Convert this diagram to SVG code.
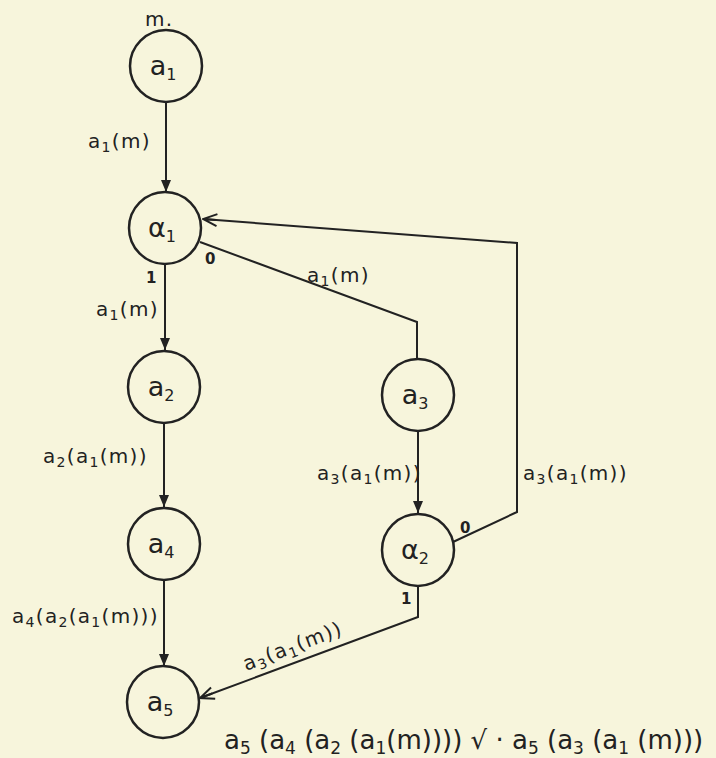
<svg xmlns="http://www.w3.org/2000/svg" width="716" height="758" viewBox="0 0 716 758">
<style>
.bg{fill:#f7f5dc}
.node circle{fill:none;stroke:#222;stroke-width:2.5}
.node text{font-family:"DejaVu Sans","Liberation Sans",sans-serif;font-size:27px;fill:#222;text-anchor:middle}
.edge{fill:none;stroke:#222;stroke-width:2}
.lbl{font-family:"DejaVu Sans","Liberation Sans",sans-serif;font-size:20px;letter-spacing:1.3px;fill:#222}
.br{font-family:"DejaVu Sans","Liberation Sans",sans-serif;font-size:15px;font-weight:bold;fill:#222}
.f{font-family:"DejaVu Sans","Liberation Sans",sans-serif;font-size:26px;fill:#222}
</style>
<defs>
<marker id="fill" viewBox="0 0 12 16" refX="12" refY="8" markerWidth="12" markerHeight="16" markerUnits="userSpaceOnUse" orient="auto">
<path d="M0,3 L12,8 L0,13 Z" fill="#222"/>
</marker>
<marker id="open" viewBox="0 0 16 16" refX="15" refY="8" markerWidth="16" markerHeight="16" markerUnits="userSpaceOnUse" orient="auto">
<path d="M1,2 L15,8 L1,14 M15,8 L2,8" fill="none" stroke="#222" stroke-width="2"/>
</marker>
</defs>
<rect class="bg" x="0" y="0" width="716" height="758"/>
<g id="connectors">
<path class="edge" d="M166 102 V192" marker-end="url(#fill)"/>
<path class="edge" d="M165 264 V350" marker-end="url(#fill)"/>
<path class="edge" d="M164 423 V507" marker-end="url(#fill)"/>
<path class="edge" d="M164 580 V666" marker-end="url(#fill)"/>
<path class="edge" d="M200 242 L417 322 V359"/>
<path class="edge" d="M418 431 V513" marker-end="url(#fill)"/>
<path class="edge" d="M453 542 L517 512 V243 L203 219" marker-end="url(#open)"/>
<path class="edge" d="M418 586 V617 L200 698" marker-end="url(#open)"/>
</g>
<g id="labels">
<text class="lbl" x="145" y="26">m.</text>
<text class="lbl" x="88" y="148">a<tspan dy="4" font-size="14">1</tspan><tspan dy="-4">(m)</tspan></text>
<text class="br" x="205" y="264">0</text>
<text class="br" x="146" y="283">1</text>
<text class="lbl" x="96" y="316">a<tspan dy="4" font-size="14">1</tspan><tspan dy="-4">(m)</tspan></text>
<text class="lbl" x="307" y="282">a<tspan dy="4" font-size="14">1</tspan><tspan dy="-4">(m)</tspan></text>
<text class="lbl" x="43" y="463">a<tspan dy="4" font-size="14">2</tspan><tspan dy="-4">(a</tspan><tspan dy="4" font-size="14">1</tspan><tspan dy="-4">(m))</tspan></text>
<text class="lbl" x="12" y="623">a<tspan dy="4" font-size="14">4</tspan><tspan dy="-4">(a</tspan><tspan dy="4" font-size="14">2</tspan><tspan dy="-4">(a</tspan><tspan dy="4" font-size="14">1</tspan><tspan dy="-4">(m)))</tspan></text>
<text class="lbl" x="317" y="480">a<tspan dy="4" font-size="14">3</tspan><tspan dy="-4">(a</tspan><tspan dy="4" font-size="14">1</tspan><tspan dy="-4">(m))</tspan></text>
<text class="lbl" x="523" y="480">a<tspan dy="4" font-size="14">3</tspan><tspan dy="-4">(a</tspan><tspan dy="4" font-size="14">1</tspan><tspan dy="-4">(m))</tspan></text>
<text class="br" x="460" y="533">0</text>
<text class="br" x="401" y="604">1</text>
<text class="lbl" transform="translate(246,671) rotate(-20.6)">a<tspan dy="4" font-size="14">3</tspan><tspan dy="-4">(a</tspan><tspan dy="4" font-size="14">1</tspan><tspan dy="-4">(m))</tspan></text>
<text class="f" x="224" y="749">a<tspan dy="5" font-size="17">5</tspan><tspan dy="-5"> (a</tspan><tspan dy="5" font-size="17">4</tspan><tspan dy="-5"> (a</tspan><tspan dy="5" font-size="17">2</tspan><tspan dy="-5"> (a</tspan><tspan dy="5" font-size="17">1</tspan><tspan dy="-5">(m)))) √ · a</tspan><tspan dy="5" font-size="17">5</tspan><tspan dy="-5"> (a</tspan><tspan dy="5" font-size="17">3</tspan><tspan dy="-5"> (a</tspan><tspan dy="5" font-size="17">1</tspan><tspan dy="-5"> (m)))</tspan></text>
</g>
<g id="n_a1" class="node"><circle cx="166" cy="66" r="36"/><text x="163" y="75">a<tspan dy="5" font-size="16">1</tspan></text></g>
<g id="n_alpha1" class="node"><circle cx="165" cy="228" r="36"/><text x="162" y="237">α<tspan dy="5" font-size="16">1</tspan></text></g>
<g id="n_a2" class="node"><circle cx="164" cy="387" r="36"/><text x="161" y="396">a<tspan dy="5" font-size="16">2</tspan></text></g>
<g id="n_a4" class="node"><circle cx="164" cy="544" r="36"/><text x="161" y="553">a<tspan dy="5" font-size="16">4</tspan></text></g>
<g id="n_a5" class="node"><circle cx="163" cy="702" r="36"/><text x="160" y="711">a<tspan dy="5" font-size="16">5</tspan></text></g>
<g id="n_a3" class="node"><circle cx="418" cy="395" r="36"/><text x="415" y="404">a<tspan dy="5" font-size="16">3</tspan></text></g>
<g id="n_alpha2" class="node"><circle cx="418" cy="550" r="36"/><text x="415" y="559">α<tspan dy="5" font-size="16">2</tspan></text></g>
</svg>
